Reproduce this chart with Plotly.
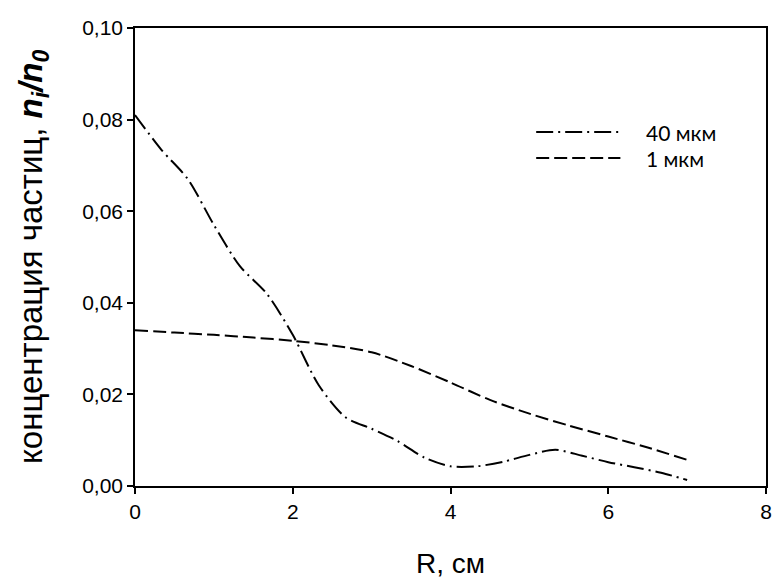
import plotly.graph_objects as go

# Radial distance, cm
r_40 = [0.0, 0.33, 0.67, 1.0, 1.33, 1.67, 2.0, 2.33, 2.67, 3.0, 3.33, 3.67,
        4.0, 4.33, 4.67, 5.0, 5.33, 5.67, 6.0, 6.33, 6.67, 7.0]
# Relative concentration n_i/n_0 for 40 um particles
n_40 = [0.081, 0.0735, 0.067, 0.057, 0.048, 0.042, 0.033, 0.022, 0.015, 0.0125,
        0.0098, 0.0062, 0.0043, 0.0043, 0.0053, 0.0068, 0.0079, 0.0066, 0.0052,
        0.0041, 0.0029, 0.0013]

r_1 = [0.0, 0.5, 1.0, 1.5, 2.0, 2.5, 3.0, 3.5, 4.0, 4.5, 5.0, 5.5, 6.0, 6.5, 7.0]
# Relative concentration n_i/n_0 for 1 um particles
n_1 = [0.034, 0.0335, 0.033, 0.0324, 0.0317, 0.0307, 0.0292, 0.0262, 0.0226,
       0.0188, 0.0158, 0.0132, 0.0108, 0.0084, 0.0057]

x_ticks = [0, 2, 4, 6, 8]
y_ticks = [0.00, 0.02, 0.04, 0.06, 0.08, 0.10]

legend_labels = ["40 мкм", "1 мкм"]

DASHDOT = "17px,5px,2px,5px"
DASH = "13px,5px"

fig = go.Figure()
fig.add_trace(go.Scatter(x=r_40, y=n_40, mode="lines", name=legend_labels[0],
                         line=dict(color="black", width=2, dash=DASHDOT,
                                   shape="spline", smoothing=0.8),
                         showlegend=False))
fig.add_trace(go.Scatter(x=r_1, y=n_1, mode="lines", name=legend_labels[1],
                         line=dict(color="black", width=2, dash=DASH,
                                   shape="spline", smoothing=0.8),
                         showlegend=False))

# Plot area in pixels: x 135..772, y 28..486
PX0, PW = 135, 637
PY0, PH = 486, 458

# Hand-drawn legend with long line samples
legend_rows = [((PY0 - 132) / PH, DASHDOT), ((PY0 - 158) / PH, DASH)]
for (yy, dsh), lab in zip(legend_rows, legend_labels):
    fig.add_shape(type="line", xref="paper", yref="paper",
                  x0=(540 - PX0) / PW, x1=(625 - PX0) / PW, y0=yy, y1=yy,
                  line=dict(color="black", width=2, dash=dsh))
    fig.add_annotation(xref="paper", yref="paper", x=(649 - PX0) / PW, y=yy,
                       text=lab, showarrow=False, xanchor="left", yanchor="middle",
                       font=dict(family="Lato", size=21, color="black"))

axis_common = dict(showline=True, linecolor="black", linewidth=1.5, mirror=True,
                   ticks="outside", ticklen=6, tickwidth=1.5, tickcolor="black",
                   showgrid=False, zeroline=False,
                   tickfont=dict(family="Liberation Sans", size=21, color="black"))

fig.update_xaxes(range=[0, 8], tickvals=x_ticks, **axis_common)
fig.update_yaxes(range=[0, 0.10], tickvals=y_ticks, tickformat=".2f", **axis_common)

fig.add_annotation(xref="paper", yref="paper", x=0.5, y=(PY0 - 563) / PH,
                   text="R, см", showarrow=False, xanchor="center", yanchor="middle",
                   font=dict(family="Liberation Sans", size=28, color="black"))
fig.add_annotation(xref="paper", yref="paper", x=(32 - PX0) / PW, y=0.5,
                   text="концентрация частиц, <b><i>n<sub>i</sub>/n<sub>0</sub></i></b>",
                   textangle=-90, showarrow=False, xanchor="center", yanchor="middle",
                   font=dict(family="Liberation Sans", size=33, color="black"))

fig.update_layout(width=779, height=578, separators=", ",
                  margin=dict(l=135, r=7, t=28, b=92),
                  plot_bgcolor="white", paper_bgcolor="white")

fig.write_html("out.html")
